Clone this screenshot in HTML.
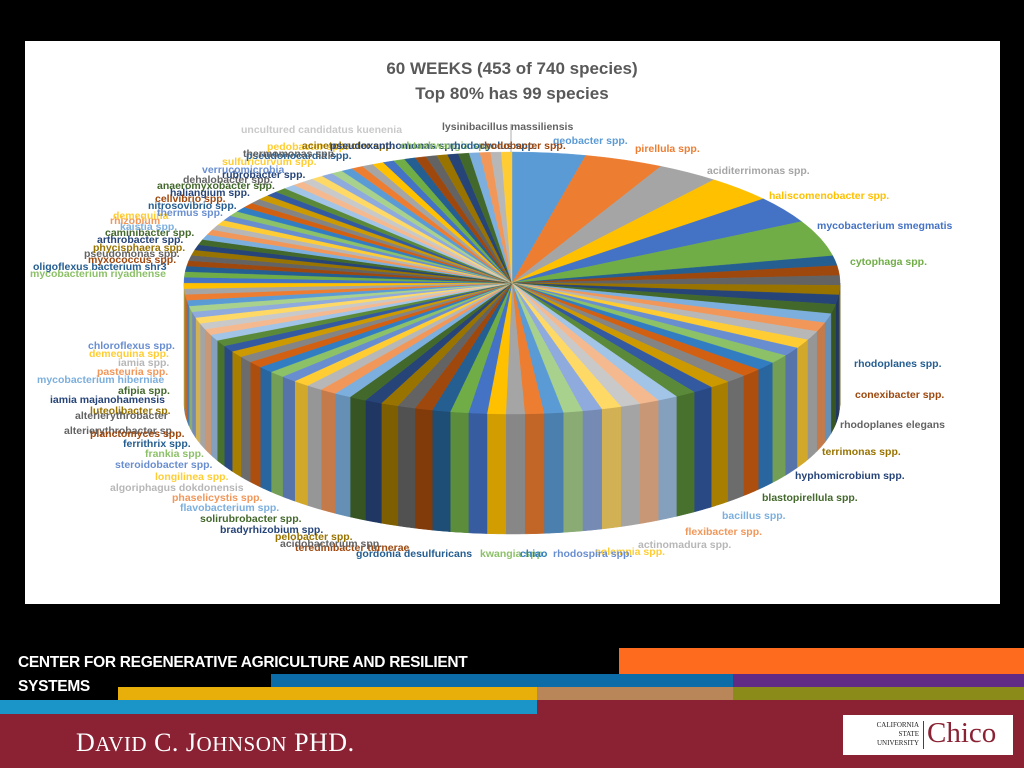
<!DOCTYPE html>
<html><head><meta charset="utf-8"><style>
body{margin:0;width:1024px;height:768px;background:#000;position:relative;overflow:hidden;font-family:"Liberation Sans",sans-serif}
#chart{position:absolute;left:25px;top:41px;width:975px;height:563px;background:#fff}
.t{position:absolute;font-weight:bold;font-size:10.5px;white-space:nowrap;line-height:1}
.bar{position:absolute}
</style></head><body>
<div id="chart"></div>
<svg id="pie" width="1024" height="768" style="position:absolute;left:0;top:0"></svg>
<div id="labels"></div>
<div style="position:absolute;left:0;top:56px;width:1024px;text-align:center;color:#595959;font-weight:bold;font-size:17px;line-height:25px">60 WEEKS (453 of 740 species)<br>Top 80% has 99 species</div>

<div class="bar" style="left:619px;top:648px;width:405px;height:26px;background:#fe6a1e"></div>
<div class="bar" style="left:271px;top:674px;width:462px;height:13px;background:#0b6ca8"></div>
<div class="bar" style="left:733px;top:674px;width:291px;height:13px;background:#612b85"></div>
<div class="bar" style="left:118px;top:687px;width:419px;height:13px;background:#e8ae0a"></div>
<div class="bar" style="left:537px;top:687px;width:196px;height:13px;background:#b9865a"></div>
<div class="bar" style="left:733px;top:687px;width:291px;height:13px;background:#8b8b1a"></div>
<div class="bar" style="left:0;top:700px;width:537px;height:14px;background:#1b94c7"></div>
<div class="bar" style="left:0;top:714px;width:1024px;height:54px;background:#8a2234"></div>
<div class="bar" style="left:537px;top:700px;width:487px;height:14px;background:#8a2234"></div>
<div style="position:absolute;left:18px;top:651px;color:#fff;font-weight:bold;font-size:15.5px;line-height:24px;letter-spacing:-0.3px">CENTER FOR REGENERATIVE AGRICULTURE AND RESILIENT<br>SYSTEMS</div>
<div style="position:absolute;left:76px;top:728px;color:#fff;font-family:'Liberation Serif',serif;font-size:26px;letter-spacing:0.5px">D<span style="font-size:21px">AVID</span> C. J<span style="font-size:21px">OHNSON</span> PHD.</div>
<div style="position:absolute;left:843px;top:715px;width:170px;height:40px;background:#fff">
<div style="position:absolute;left:6px;top:6px;font-family:'Liberation Serif',serif;font-size:7px;line-height:9px;text-align:right;width:70px;color:#222">CALIFORNIA<br>STATE<br>UNIVERSITY</div>
<div style="position:absolute;left:80px;top:6px;width:1px;height:28px;background:#8a2234"></div>
<div style="position:absolute;left:84px;top:2px;font-family:'Liberation Serif',serif;font-size:29px;color:#8a2234">Chico</div>
</div>
<script>
var pal=["#5B9BD5","#ED7D31","#A5A5A5","#FFC000","#4472C4","#70AD47","#255E91","#9E480E","#636363","#997300","#264478","#43682B","#7CAFDD","#F1975A","#B7B7B7","#FFCD33","#698ED0","#8CC168","#327DC2","#D26012","#848484","#CC9A00","#335AA1","#5A8A39","#A2C4E6","#F5B98F","#C9C9C9","#FFD966","#8FAADC","#A9D18E"];
var sizes=[13,14,11,12,12,16];var rest=360-78;var n=100,w=[];var s=0;
for(var i=0;i<n;i++){var v=Math.pow(0.985,i)+0.35;w.push(v);s+=v;}
for(var i=0;i<n;i++)sizes.push(w[i]/s*rest);
var cx=512,cy=283,rx=328,ry=131,d=120;
function P(a,dy){var r=a*Math.PI/180;return [cx+rx*Math.sin(r),cy-ry*Math.cos(r)+(dy||0)];}
function dk(h,f){var n=parseInt(h.slice(1),16);var r=(n>>16)*f|0,g=((n>>8)&255)*f|0,b=(n&255)*f|0;return "rgb("+r+","+g+","+b+")";}
var side="",topf="",a=0;
for(var i=0;i<sizes.length;i++){var c=pal[i%pal.length];var a0=a,a1=a+sizes[i];a=a1;
 var s0=Math.max(a0,90),s1=Math.min(a1,270);
 if(s1>s0){var pts=[];var st=Math.max(0.5,(s1-s0)/8);for(var t=s0;t<s1;t+=st){pts.push(P(t));}pts.push(P(s1));
  var p2=pts.slice().reverse().map(function(p){return [p[0],p[1]+d];});
  side+='<polygon fill="'+dk(c,0.82)+'" stroke="'+dk(c,0.82)+'" stroke-width="0.5" points="'+pts.concat(p2).map(function(p){return p[0].toFixed(1)+","+p[1].toFixed(1)}).join(" ")+'"/>';}
 var p0=P(a0),p1=P(a1),lg=(a1-a0)>180?1:0;
 topf+='<path fill="'+c+'" stroke="'+c+'" stroke-width="0.4" d="M'+cx+','+cy+'L'+p0[0].toFixed(1)+','+p0[1].toFixed(1)+'A'+rx+','+ry+' 0 '+lg+' 1 '+p1[0].toFixed(1)+','+p1[1].toFixed(1)+'Z"/>';}
document.getElementById('pie').innerHTML=side+topf+'<line x1="511" y1="124" x2="511" y2="152" stroke="#999" stroke-width="0.8"/>';
var L=[["geobacter spp.",553,136,0],["pirellula spp.",635,144,1],["aciditerrimonas spp.",707,166,2],["haliscomenobacter spp.",769,191,3],["mycobacterium smegmatis",817,221,4],["cytophaga spp.",850,257,5],
["rhodoplanes spp.",854,359,6],["conexibacter spp.",855,390,7],["rhodoplanes elegans",840,420,8],["terrimonas spp.",822,447,9],["hyphomicrobium spp.",795,471,10],["blastopirellula spp.",762,493,11],["bacillus spp.",722,511,12],["flexibacter spp.",685,527,13],["actinomadura spp.",638,540,14],["solemnia spp.",595,547,15],["rhodospira spp.",553,549,16],["kwangia spp.",480,549,17],["chiao",520,549,18],
["gordonia desulfuricans",356,549,6],["teredinibacter turnerae",295,543,7],["acidobacterium spp.",280,539,8],["pelobacter spp.",275,532,9],["bradyrhizobium spp.",220,525,10],["solirubrobacter spp.",200,514,11],["flavobacterium spp.",180,503,12],["phaselicystis spp.",172,493,13],["algoriphagus dokdonensis",110,483,14],["longilinea spp.",155,472,15],["steroidobacter spp.",115,460,16],["frankia spp.",145,449,17],["ferrithrix spp.",123,439,6],["alterierythrobacter sp.",64,426,8],["planctomyces spp.",90,429,7],["luteolibacter sp.",90,406,9],["alterierythrobacter",75,411,8],["iamia majanohamensis",50,395,10],["afipia spp.",118,386,11],["mycobacterium hiberniae",37,375,12],["pasteuria spp.",97,367,13],["iamia spp.",118,358,14],["demequina spp.",89,349,15],["chloroflexus spp.",88,341,16],
["mycobacterium riyadhense",30,269,17],["oligoflexus bacterium shr3",33,262,6],["myxococcus spp.",88,255,7],["pseudomonas spp.",84,249,8],["phycisphaera spp.",93,243,9],["arthrobacter spp.",97,235,10],["caminibacter spp.",105,228,11],["kaistia spp.",120,222,12],["rhizobium",110,216,13],["demequina",113,211,15],["thermus spp.",157,208,16],["nitrosovibrio spp.",148,201,6],["cellvibrio spp.",155,194,7],["haliangium spp.",170,188,10],["anaeromyxobacter spp.",157,181,11],["dehalobacter spp.",183,175,8],["rubrobacter spp.",222,170,10],["verrucomicrobia",202,165,16],["sulfuricurvum spp.",222,157,15],["pseudonocardia spp.",246,151,6],["thermomonas spp.",243,149,8],["pedobacter spp.",267,142,15],["acinetobacter spp.",302,141,9],["pseudoxanthomonas spp.",330,141,10],["ohtaekwangia spp.",400,141,17],["rhodocyclus spp.",450,141,6],["rhodobacter spp.",480,141,7],
["uncultured candidatus kuenenia",241,125,26],["lysinibacillus massiliensis",442,122,8]];
var h="";L.forEach(function(l){h+='<div class="t" style="left:'+l[1]+'px;top:'+l[2]+'px;color:'+pal[l[3]]+'">'+l[0]+'</div>';});
document.getElementById('labels').innerHTML=h;
</script>
</body></html>
